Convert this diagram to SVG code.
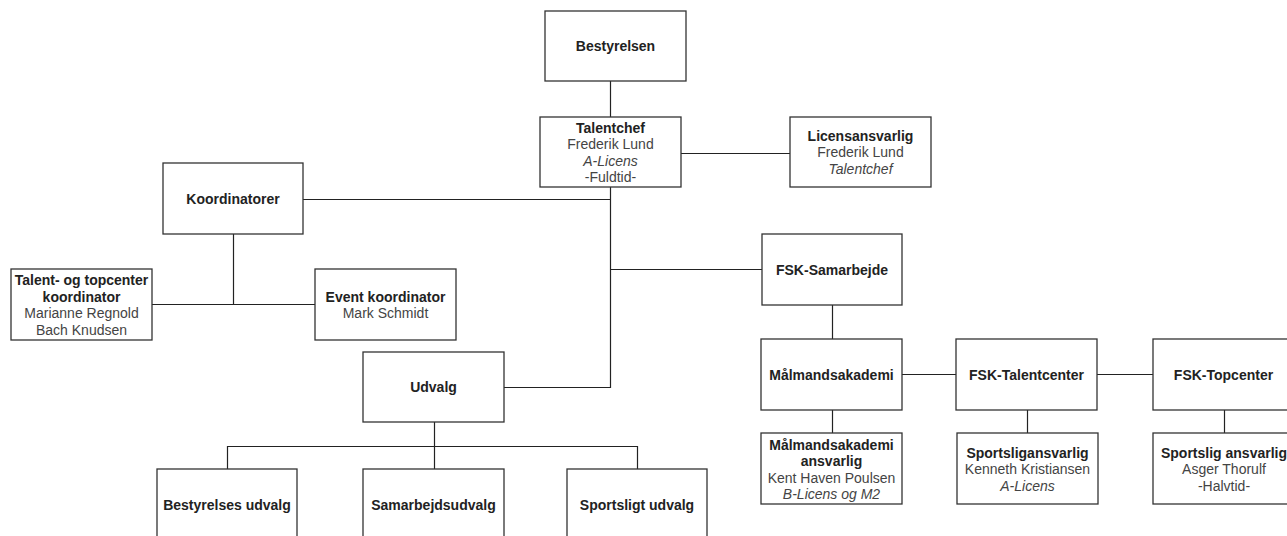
<svg xmlns="http://www.w3.org/2000/svg" width="1287" height="536" viewBox="0 0 1287 536">
<style>
  .box { fill: #ffffff; stroke: #333333; stroke-width: 1.3; }
  .edge { fill: none; stroke: #222222; stroke-width: 1.2; }
  text { font-family: "Liberation Sans", Arial, Helvetica, sans-serif; font-size: 14px; text-anchor: middle; fill: #444444; }
  .b { font-weight: bold; fill: #222222; }
  .i { font-style: italic; }
</style>
<rect x="0" y="0" width="1287" height="536" fill="#ffffff"/>
<g id="connectors">
  <path class="edge" d="M610.5,81 V117"/>
  <path class="edge" d="M681,153.5 H790"/>
  <path class="edge" d="M610.5,187 V387.5 H504"/>
  <path class="edge" d="M303,199.5 H610.5"/>
  <path class="edge" d="M610.5,269.5 H762"/>
  <path class="edge" d="M233.5,234 V304.5"/>
  <path class="edge" d="M152,304.5 H315"/>
  <path class="edge" d="M434.5,422 V469"/>
  <path class="edge" d="M227.5,469 V446.5 H637.5 V469"/>
  <path class="edge" d="M832.5,305 V339"/>
  <path class="edge" d="M902,374.5 H956"/>
  <path class="edge" d="M1097,374.5 H1153"/>
  <path class="edge" d="M832.5,410 V433"/>
  <path class="edge" d="M1027.5,410 V433"/>
  <path class="edge" d="M1224.5,410 V433"/>
</g>
<g id="bestyrelsen">
  <rect class="box" x="545" y="11" width="141" height="70"/>
  <text class="b" x="615.5" y="51">Bestyrelsen</text>
</g>
<g id="talentchef">
  <rect class="box" x="540" y="117" width="141" height="70"/>
  <text class="b" x="610.5" y="132.5">Talentchef</text>
  <text x="610.5" y="149">Frederik Lund</text>
  <text class="i" x="610.5" y="165.5">A-Licens</text>
  <text x="610.5" y="182">-Fuldtid-</text>
</g>
<g id="licensansvarlig">
  <rect class="box" x="790" y="117" width="141" height="70"/>
  <text class="b" x="860.5" y="140.8">Licensansvarlig</text>
  <text x="860.5" y="157.3">Frederik Lund</text>
  <text class="i" x="860.5" y="173.8">Talentchef</text>
</g>
<g id="koordinatorer">
  <rect class="box" x="163" y="163" width="140" height="71"/>
  <text class="b" x="233" y="203.5">Koordinatorer</text>
</g>
<g id="talent-topcenter-koordinator">
  <rect class="box" x="11" y="269" width="141" height="71"/>
  <text class="b" x="81.5" y="285">Talent- og topcenter</text>
  <text class="b" x="81.5" y="301.5">koordinator</text>
  <text x="81.5" y="318">Marianne Regnold</text>
  <text x="81.5" y="334.5">Bach Knudsen</text>
</g>
<g id="event-koordinator">
  <rect class="box" x="315" y="269" width="141" height="71"/>
  <text class="b" x="385.5" y="301.5">Event koordinator</text>
  <text x="385.5" y="318">Mark Schmidt</text>
</g>
<g id="udvalg">
  <rect class="box" x="363" y="352" width="141" height="70"/>
  <text class="b" x="433.5" y="392">Udvalg</text>
</g>
<g id="bestyrelses-udvalg">
  <rect class="box" x="157" y="469" width="140" height="70"/>
  <text class="b" x="227" y="510">Bestyrelses udvalg</text>
</g>
<g id="samarbejdsudvalg">
  <rect class="box" x="363" y="469" width="141" height="70"/>
  <text class="b" x="433.5" y="510">Samarbejdsudvalg</text>
</g>
<g id="sportsligt-udvalg">
  <rect class="box" x="567" y="469" width="140" height="70"/>
  <text class="b" x="637" y="510">Sportsligt udvalg</text>
</g>
<g id="fsk-samarbejde">
  <rect class="box" x="762" y="234" width="140" height="71"/>
  <text class="b" x="832" y="274.5">FSK-Samarbejde</text>
</g>
<g id="malmandsakademi">
  <rect class="box" x="761" y="339" width="141" height="71"/>
  <text class="b" x="831.5" y="379.5">Målmandsakademi</text>
</g>
<g id="fsk-talentcenter">
  <rect class="box" x="956" y="339" width="141" height="71"/>
  <text class="b" x="1026.5" y="379.5">FSK-Talentcenter</text>
</g>
<g id="fsk-topcenter">
  <rect class="box" x="1153" y="339" width="141" height="71"/>
  <text class="b" x="1223.5" y="379.5">FSK-Topcenter</text>
</g>
<g id="malmandsakademi-ansvarlig">
  <rect class="box" x="761" y="433" width="141" height="71"/>
  <text class="b" x="831.5" y="449.5">Målmandsakademi</text>
  <text class="b" x="831.5" y="466">ansvarlig</text>
  <text x="831.5" y="482.5">Kent Haven Poulsen</text>
  <text class="i" x="831.5" y="499">B-Licens og M2</text>
</g>
<g id="sportsligansvarlig">
  <rect class="box" x="957" y="433" width="141" height="71"/>
  <text class="b" x="1027.5" y="457.8">Sportsligansvarlig</text>
  <text x="1027.5" y="474.3">Kenneth Kristiansen</text>
  <text class="i" x="1027.5" y="490.8">A-Licens</text>
</g>
<g id="sportslig-ansvarlig">
  <rect class="box" x="1153" y="433" width="141" height="71"/>
  <text class="b" x="1224" y="457.8">Sportslig ansvarlig</text>
  <text x="1224" y="474.3">Asger Thorulf</text>
  <text x="1224" y="490.8">-Halvtid-</text>
</g>
</svg>
